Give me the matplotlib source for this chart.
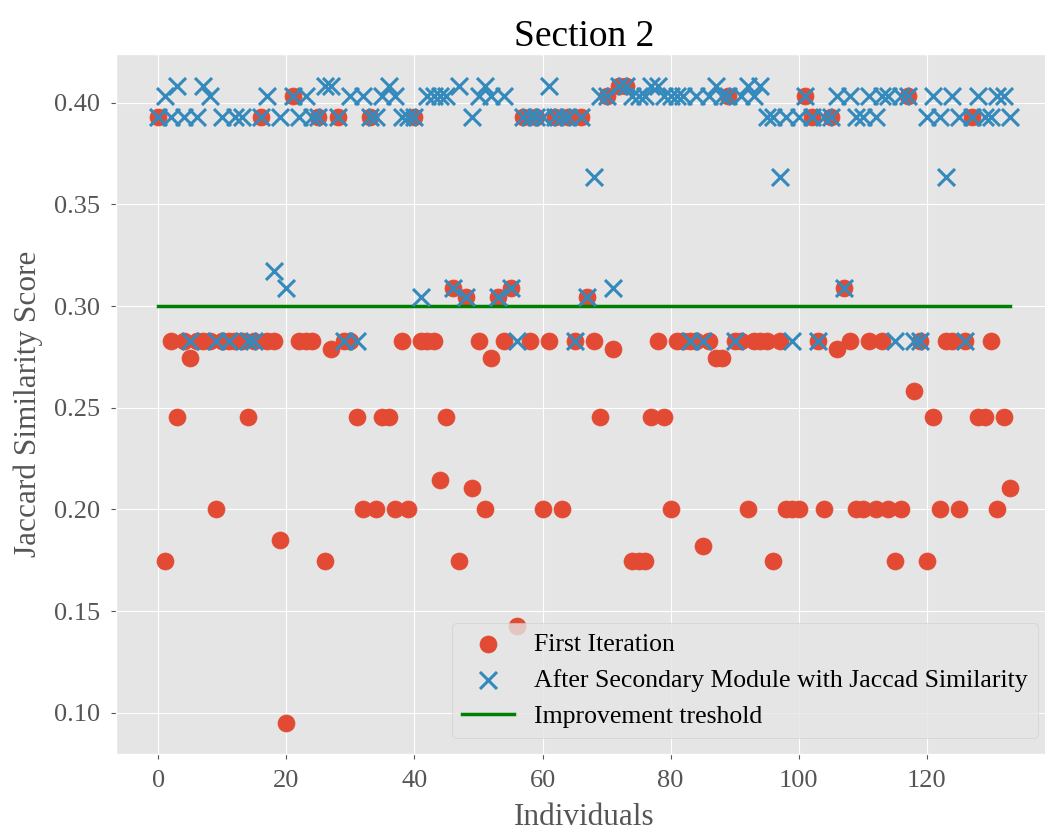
import numpy as np
import matplotlib
matplotlib.use('Agg')
import matplotlib.pyplot as plt

plt.style.use('ggplot')
plt.rcParams['font.family'] = ['Liberation Serif', 'DejaVu Serif']

# Jaccard scores per individual, first iteration
first_iteration = [
    0.3929, 0.1746, 0.2826, 0.2456, 0.2826, 0.2745, 0.2826, 0.2826, 0.2826, 0.2000,
    0.2826, 0.2826, 0.2826, 0.2826, 0.2456, 0.2826, 0.3929, 0.2826, 0.2826, 0.1852,
    0.0952, 0.4035, 0.2826, 0.2826, 0.2826, 0.3929, 0.1746, 0.2788, 0.3929, 0.2826,
    0.2826, 0.2456, 0.2000, 0.3929, 0.2000, 0.2456, 0.2456, 0.2000, 0.2826, 0.2000,
    0.3929, 0.2826, 0.2826, 0.2826, 0.2143, 0.2456, 0.3091, 0.1746, 0.3043, 0.2105,
    0.2826, 0.2000, 0.2745, 0.3043, 0.2826, 0.3091, 0.1429, 0.3929, 0.2826, 0.3929,
    0.2000, 0.2826, 0.3929, 0.2000, 0.3929, 0.2826, 0.3929, 0.3043, 0.2826, 0.2456,
    0.4035, 0.2788, 0.4082, 0.4082, 0.1746, 0.1746, 0.1746, 0.2456, 0.2826, 0.2456,
    0.2000, 0.2826, 0.2826, 0.2826, 0.2826, 0.1818, 0.2826, 0.2745, 0.2745, 0.4035,
    0.2826, 0.2826, 0.2000, 0.2826, 0.2826, 0.2826, 0.1746, 0.2826, 0.2000, 0.2000,
    0.2000, 0.4035, 0.3929, 0.2826, 0.2000, 0.3929, 0.2788, 0.3091, 0.2826, 0.2000,
    0.2000, 0.2826, 0.2000, 0.2826, 0.2000, 0.1746, 0.2000, 0.4035, 0.2581, 0.2826,
    0.1746, 0.2456, 0.2000, 0.2826, 0.2826, 0.2000, 0.2826, 0.3929, 0.2456, 0.2456,
    0.2826, 0.2000, 0.2456, 0.2105,
]

# Jaccard scores after the secondary module
after_secondary = [
    0.3929, 0.4035, 0.3929, 0.4082, 0.3929, 0.2826, 0.3929, 0.4082, 0.4035, 0.2826,
    0.3929, 0.2826, 0.3929, 0.3929, 0.2826, 0.2826, 0.3929, 0.4035, 0.3171, 0.3929,
    0.3091, 0.4035, 0.3929, 0.4035, 0.3929, 0.3929, 0.4082, 0.4082, 0.3929, 0.2826,
    0.4035, 0.2826, 0.4035, 0.3929, 0.3929, 0.4035, 0.4082, 0.4035, 0.3929, 0.3929,
    0.3929, 0.3043, 0.4035, 0.4035, 0.4035, 0.4035, 0.3091, 0.4082, 0.3043, 0.3929,
    0.4035, 0.4082, 0.4035, 0.3043, 0.4035, 0.3091, 0.2826, 0.3929, 0.3929, 0.3929,
    0.3929, 0.4082, 0.3929, 0.3929, 0.3929, 0.2826, 0.3929, 0.3043, 0.3636, 0.4035,
    0.4035, 0.3091, 0.4082, 0.4082, 0.4035, 0.4035, 0.4035, 0.4082, 0.4082, 0.4035,
    0.4035, 0.4035, 0.4035, 0.2826, 0.4035, 0.2826, 0.4035, 0.4082, 0.4035, 0.4035,
    0.2826, 0.4035, 0.4082, 0.4035, 0.4082, 0.3929, 0.3929, 0.3636, 0.3929, 0.2826,
    0.3929, 0.4035, 0.3929, 0.2826, 0.3929, 0.3929, 0.4035, 0.3091, 0.4035, 0.3929,
    0.3929, 0.4035, 0.3929, 0.4035, 0.4035, 0.2826, 0.4035, 0.4035, 0.2826, 0.2826,
    0.3929, 0.4035, 0.3929, 0.3636, 0.4035, 0.3929, 0.2826, 0.3929, 0.4035, 0.3929,
    0.3929, 0.4035, 0.4035, 0.3929,
]

threshold = 0.3
individuals = np.arange(len(first_iteration))

fig = plt.figure(figsize=(10.45, 8.35), dpi=100)
ax = fig.add_axes([0.1107, 0.0965, 0.8967, 0.8387])

ax.scatter(individuals, first_iteration, s=150, color='#E24A33', label='First Iteration', zorder=2)
ax.scatter(individuals, after_secondary, s=150, marker='x', linewidths=2.2, color='#348ABD',
           label='After Secondary Module with Jaccad Similarity', zorder=3)
ax.plot([individuals[0], individuals[-1]], [threshold, threshold], color='green', linewidth=2.5,
        label='Improvement treshold', zorder=2)

ax.set_title('Section 2', fontsize=27, color='black', pad=4)
ax.set_xlabel('Individuals', fontsize=22.5, labelpad=8)
ax.set_ylabel('Jaccard Similarity Score', fontsize=22.5, labelpad=8)
ax.tick_params(labelsize=19, pad=7.5)
ax.set_xticks([0, 20, 40, 60, 80, 100, 120])
ax.set_yticks([0.10, 0.15, 0.20, 0.25, 0.30, 0.35, 0.40])

ax.legend(loc='lower right', bbox_to_anchor=(1038 / 1045, 97 / 835), bbox_transform=fig.transFigure,
          fontsize=18.5, facecolor='#E5E5E5', framealpha=0.8, borderaxespad=0)

fig.savefig('out.png', dpi=100)
plt.close()
